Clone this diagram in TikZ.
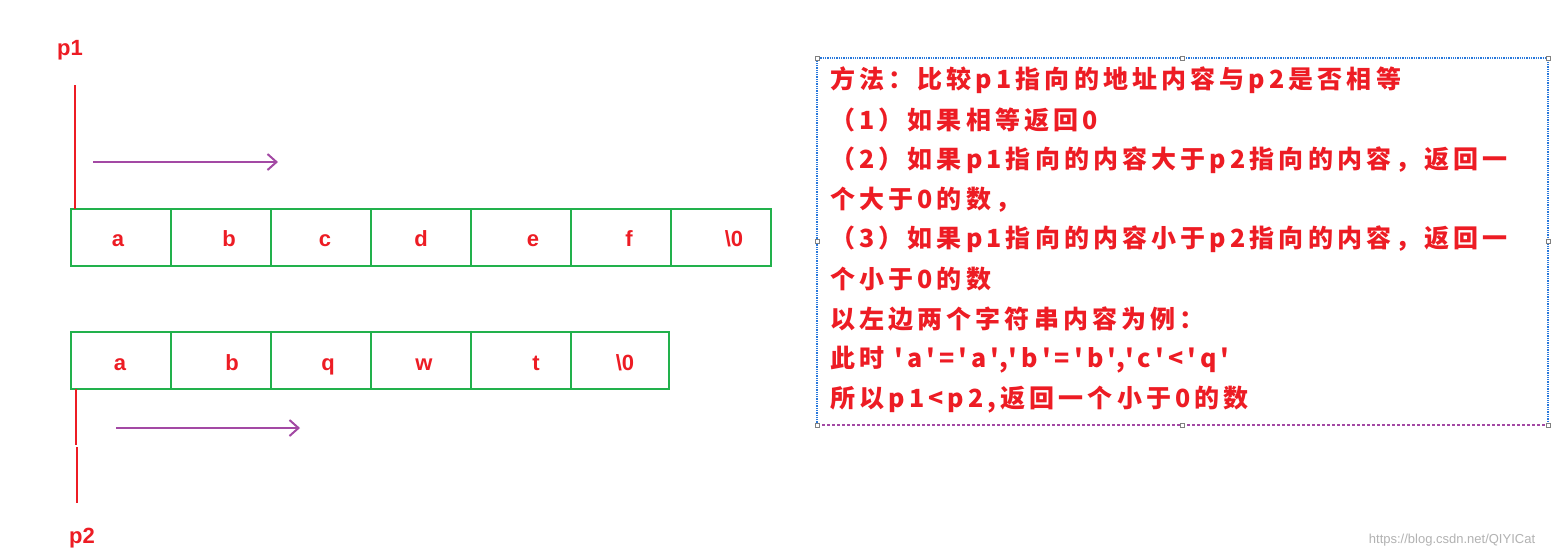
\documentclass[tikz,border=0pt]{standalone}
\usepackage{fontspec}
\newfontfamily\cjk[LetterSpace=16.5]{Noto Sans CJK SC}
\newfontfamily\lat{Liberation Sans}
\usetikzlibrary{arrows.meta}
\definecolor{rd}{RGB}{237,28,36}
\definecolor{gn}{RGB}{34,177,76}
\definecolor{pp}{RGB}{163,73,164}
\definecolor{bl}{RGB}{40,120,220}
\begin{document}
\begin{tikzpicture}[x=1pt,y=-1pt,
  cell/.style={draw=gn,line width=2.2pt,minimum width=100pt,minimum height=57pt,inner sep=0pt},
  ch/.style={text=rd,font=\lat\bfseries\fontsize{22}{22}\selectfont,text height=16pt,text depth=5pt,inner sep=0pt},
  ptr/.style={draw=rd,line width=2.2pt},
  mv/.style={draw=pp,line width=2pt,-{Straight Barb[length=9pt,width=16pt]}},
  lbl/.style={text=rd,font=\lat\bfseries\fontsize{22}{22}\selectfont},
  ln/.style={anchor=west,text=rd,inner sep=0pt,font=\cjk\bfseries\fontsize{25}{25}\selectfont},
  hd/.style={draw=gray,fill=white,minimum size=4pt,inner sep=0pt}]
\useasboundingbox (0,0) rectangle (1560,558);
\fill[white] (0,0) rectangle (1560,558);
\foreach \i in {1,...,7}
  \node[cell] (t\i) at ({71+(\i-1)*100+50},237.5) {};
\foreach \i in {1,...,6}
  \node[cell,minimum width={\ifnum\i=6 98pt\else 100pt\fi}] (b\i) at ({71+(\i-1)*100+(\ifnum\i=6 49\else 50\fi)},360.5) {};
\foreach \t/\x [count=\i] in {a/118,b/229,c/325,d/421,e/533,f/629,\textbackslash 0/734}
  \node[ch] (tc\i) at (\x,241) {\t};
\foreach \t/\x [count=\i] in {a/120,b/232,q/328,w/424,t/536,\textbackslash 0/625}
  \node[ch] (bc\i) at (\x,365) {\t};
\node[lbl] (p1) at (70,50) {p1};
\node[lbl] (p2) at (82,538) {p2};
\coordinate (p1a) at (75,85); \coordinate (p1b) at (75,209);
\draw[ptr] (p1a) -- (p1b);
\coordinate (p2a) at (76,389); \coordinate (p2b) at (76,445);
\coordinate (p2c) at (77,447); \coordinate (p2d) at (77,503);
\draw[ptr] (p2a) -- (p2b); \draw[ptr] (p2c) -- (p2d);
\coordinate (a1) at (93,162); \coordinate (a2) at (278,162);
\draw[mv] (a1) -- (a2);
\coordinate (c1) at (116,428); \coordinate (c2) at (300,428);
\draw[mv] (c1) -- (c2);
\draw[bl,densely dotted,line width=1.3pt] (817,425) -- (817,58) -- (1548,58) -- (1548,425);
\draw[pp,densely dashed,line width=1.3pt] (817,425) -- (1548,425);
\foreach \x/\y in {817/58,1182/58,1548/58,817/241,1548/241,817/425,1182/425,1548/425}
  \node[hd] at (\x,\y) {};
\foreach \s [count=\i] in {方法：比较p1指向的地址内容与p2是否相等,（1）如果相等返回0,（2）如果p1指向的内容大于p2指向的内容，返回一,个大于0的数，,（3）如果p1指向的内容小于p2指向的内容，返回一,个小于0的数,以左边两个字符串内容为例：,此时 'a'='a'{,}'b'='b'{,}'c'<'q',所以p1<p2{,}返回一个小于0的数}
  \node[ln] (l\i) at (830,{80+(\i-1)*39.9}) {\s};
\node[text=gray!60,font=\lat\fontsize{13}{13}\selectfont] (wm) at (1452,540) {https://blog.csdn.net/QIYICat};
\end{tikzpicture}
\end{document}
